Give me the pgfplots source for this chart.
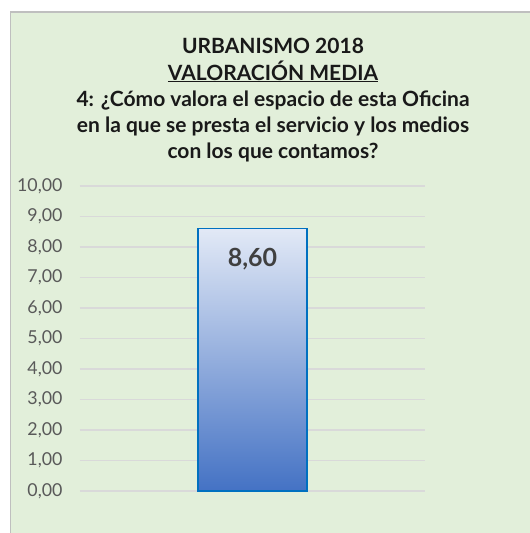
\documentclass[border=0pt]{standalone}
\usepackage{fontspec}
\setmainfont{Lato}
\usepackage{pgfplots}
\pgfplotsset{compat=1.18}
\definecolor{bggreen}{RGB}{226,239,218}
\definecolor{framegray}{RGB}{191,191,191}
\definecolor{gridgray}{RGB}{217,217,217}
\definecolor{ticktext}{RGB}{89,89,89}
\definecolor{bartop}{RGB}{226,233,246}
\definecolor{barmid}{RGB}{176,196,232}
\definecolor{barbot}{RGB}{68,114,196}
\definecolor{baredge}{RGB}{0,112,192}
\definecolor{labeltext}{RGB}{64,64,64}
\begin{document}
\begin{tikzpicture}
\path[use as bounding box] (0pt,0pt) rectangle (530pt,533pt);
\fill[white] (0pt,0pt) rectangle (530pt,533pt);
\fill[bggreen] (10.5pt,0pt) rectangle (530pt,521pt);
\draw[framegray, line width=1.5pt] (10.5pt,0pt) -- (10.5pt,521pt) -- (530pt,521pt);
\node[align=center, font=\bfseries\fontsize{21}{26.2}\selectfont, text=black!90, anchor=north] at (273pt,498pt)
  {URBANISMO 2018\\ \underline{VALORACIÓN MEDIA}\\ 4: ¿Cómo valora el espacio de esta Oficina\\ en la que se presta el servicio y los medios\\ con los que contamos?};
\begin{axis}[
  at={(80pt,42pt)}, anchor=south west,
  scale only axis, width=345pt, height=305pt,
  xmin=-1, xmax=1, ymin=0, ymax=10,
  xtick=\empty, ytick={0,1,...,10},
  axis line style={draw=none},
  ytick style={draw=none},
  ymajorgrids, grid style={gridgray, line width=1.2pt},
  yticklabel style={text=ticktext, font=\fontsize{17.8}{20}\selectfont, xshift=-14pt},
  /pgf/number format/assume math mode=true,
  yticklabel={\pgfmathprintnumber[fixed, fixed zerofill, precision=2, use comma]{\tick}},
  clip=false,
]
\addplot[ybar, bar width=109pt, draw=baredge, line width=1.5pt,
  top color=bartop, middle color=barmid, bottom color=barbot,
  nodes near coords={\pgfmathprintnumber[fixed, fixed zerofill, precision=2, use comma]{\pgfplotspointmeta}},
  nodes near coords style={anchor=north, yshift=-15pt, text=labeltext, font=\bfseries\fontsize{25}{28}\selectfont, /pgf/number format/assume math mode=true},
] coordinates {(0,8.6)};
\end{axis}
\end{tikzpicture}
\end{document}
